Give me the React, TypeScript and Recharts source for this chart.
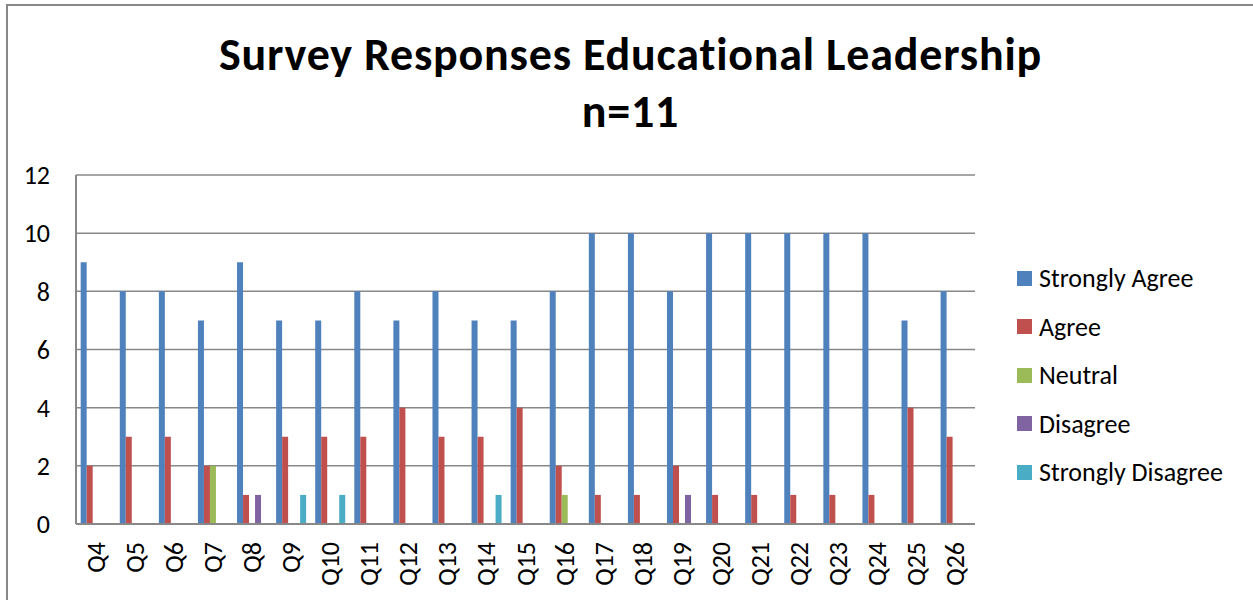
import { BarChart, Bar, XAxis, YAxis, CartesianGrid } from "recharts";

const categories = ["Q4", "Q5", "Q6", "Q7", "Q8", "Q9", "Q10", "Q11", "Q12", "Q13", "Q14", "Q15", "Q16", "Q17", "Q18", "Q19", "Q20", "Q21", "Q22", "Q23", "Q24", "Q25", "Q26"];
const stronglyAgree = [9, 8, 8, 7, 9, 7, 7, 8, 7, 8, 7, 7, 8, 10, 10, 8, 10, 10, 10, 10, 10, 7, 8];
const agree = [2, 3, 3, 2, 1, 3, 3, 3, 4, 3, 3, 4, 2, 1, 1, 2, 1, 1, 1, 1, 1, 4, 3];
const neutral = [0, 0, 0, 2, 0, 0, 0, 0, 0, 0, 0, 0, 1, 0, 0, 0, 0, 0, 0, 0, 0, 0, 0];
const disagree = [0, 0, 0, 0, 1, 0, 0, 0, 0, 0, 0, 0, 0, 0, 0, 1, 0, 0, 0, 0, 0, 0, 0];
const stronglyDisagree = [0, 0, 0, 0, 0, 1, 1, 0, 0, 0, 1, 0, 0, 0, 0, 0, 0, 0, 0, 0, 0, 0, 0];
const yTicks = [0, 2, 4, 6, 8, 10, 12];

const series = [
  { key: "sa", name: "Strongly Agree", color: "#4F81BD" },
  { key: "a", name: "Agree", color: "#C0504D" },
  { key: "n", name: "Neutral", color: "#9BBB59" },
  { key: "d", name: "Disagree", color: "#8064A2" },
  { key: "sd", name: "Strongly Disagree", color: "#4BACC6" },
];

const data = categories.map((name, i) => ({
  name,
  sa: stronglyAgree[i],
  a: agree[i],
  n: neutral[i],
  d: disagree[i],
  sd: stronglyDisagree[i],
}));

const font = "Carlito, Calibri, Lato, sans-serif";

const XTick = ({ x, y, payload }: any) => (
  <text
    transform={`translate(${x},${y}) rotate(-90)`}
    textAnchor="end"
    dominantBaseline="central"
    fontSize={26}
    fill="#000"
    fontFamily={font}
  >
    {payload.value}
  </text>
);

export default function App() {
  return (
    <div style={{ position: "absolute", left: 0, top: 0, width: 1253, height: 600, overflow: "hidden", background: "#fff" }}>
      {/* chart frame: only the top and left edges are in view */}
      <div style={{ position: "absolute", left: 6, top: 4, width: 1247, height: 2, background: "#888", zIndex: 2 }} />
      <div style={{ position: "absolute", left: 6, top: 4, width: 2, height: 596, background: "#888", zIndex: 2 }} />

      <div
        style={{
          position: "absolute",
          left: 0,
          top: 26,
          width: 1261,
          textAlign: "center",
          fontFamily: font,
          fontWeight: 700,
          fontSize: 46,
          lineHeight: "57px",
          letterSpacing: 0.8,
          color: "#000",
        }}
      >
        <div>Survey Responses Educational Leadership</div>
        <div>n=11</div>
      </div>

      <div style={{ position: "absolute", left: 0, top: 0 }}>
        <BarChart
          width={1253}
          height={600}
          data={data}
          margin={{ top: 175, right: 278, bottom: 0, left: 0 }}
          barCategoryGap="12%"
          barGap={0}
        >
          <CartesianGrid vertical={false} stroke="#888" strokeWidth={1.5} />
          <XAxis
            dataKey="name"
            interval={0}
            tickLine={false}
            axisLine={{ stroke: "#888", strokeWidth: 2 }}
            tick={<XTick />}
            tickSize={6}
            tickMargin={12}
            height={76}
          />
          <YAxis
            width={76}
            domain={[0, 12]}
            ticks={yTicks}
            tickLine={false}
            axisLine={{ stroke: "#888", strokeWidth: 2 }}
            tickSize={6}
            tickMargin={20}
            tick={{ fontSize: 26, fill: "#000", fontFamily: font }}
          />
          {series.map((s) => (
            <Bar key={s.key} dataKey={s.key} name={s.name} fill={s.color} isAnimationActive={false} />
          ))}
        </BarChart>
      </div>

      <div style={{ position: "absolute", left: 1017, top: 254, fontFamily: font, fontSize: 26, color: "#000" }}>
        {series.map((s) => (
          <div key={s.key} style={{ display: "flex", alignItems: "center", height: 48.5 }}>
            <div style={{ width: 15, height: 15, background: s.color, marginRight: 7 }} />
            <span>{s.name}</span>
          </div>
        ))}
      </div>
    </div>
  );
}
